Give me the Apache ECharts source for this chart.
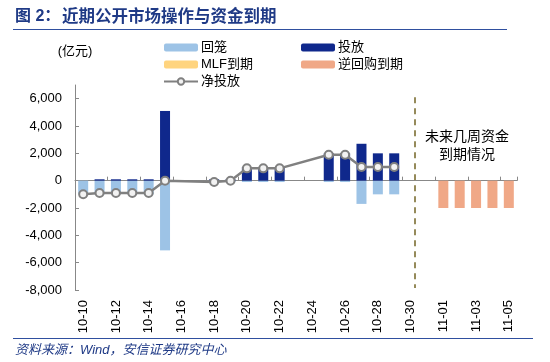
<!DOCTYPE html>
<html>
<head>
<meta charset="utf-8">
<script src="https://cdn.jsdelivr.net/npm/echarts@6/dist/echarts.min.js"></script>
<style>
html,body{margin:0;padding:0;background:#fff;}
#main{width:550px;height:362px;}
</style>
</head>
<body>
<div id="main"></div>
<script>
var categories = ['10-10','10-11','10-12','10-13','10-14','10-15','10-16','10-17','10-18','10-19','10-20','10-21','10-22','10-23','10-24','10-25','10-26','10-27','10-28','10-29','10-30','10-31','11-01','11-02','11-03','11-04','11-05'];
var huiLong  = [-1000,-1000,-1000,-1000,-1000,-5100,null,null,-200,-100,-100,-100,-100,null,null,-100,-100,-1700,-1000,-1000,null,null,null,null,null,null,null];
var touFang  = [null,100,100,100,100,5100,null,null,100,100,1000,1000,1000,null,null,2000,2000,2700,2000,2000,null,null,null,null,null,null,null];
var mlfDaoQi = [null,null,null,null,null,null,null,null,null,null,null,null,null,null,null,null,null,null,null,null,null,null,null,null,null,null,null];
var niHuiGou = [null,null,null,null,null,null,null,null,null,null,null,null,null,null,null,null,null,null,null,null,null,null,-2000,-2000,-2000,-2000,-2000];
var jingTouFang = [-1000,-900,-900,-900,-900,0,null,null,-100,0,900,900,900,null,null,1900,1900,1000,1000,1000,null,null,null,null,null,null,null];
var yTicks = {min:-8000, max:7000, interval:2000};
var dividerPos = 20.77;       // position of dashed divider in category units
var dividerRange = [6100, -7850];

var chart = echarts.init(document.getElementById('main'));
var font = 'Arial, "Liberation Sans", "Noto Sans CJK SC", sans-serif';
var barW = 10;
var option = {
  animation: false,
  textStyle: {fontFamily: font},
  grid: {left: 75, right: 33, top: 85, bottom: 72, containLabel: false},
  legend: [
    {data: ['回笼','MLF到期','净投放'], orient: 'vertical', left: 158, top: 36,
     itemWidth: 34, itemHeight: 8, itemGap: 4, textStyle: {fontSize: 13, color: '#000', fontFamily: font, padding:[0,0,0,-2]}},
    {data: ['投放','逆回购到期'], orient: 'vertical', left: 296, top: 36,
     itemWidth: 34, itemHeight: 8, itemGap: 4, textStyle: {fontSize: 13, color: '#000', fontFamily: font, padding:[0,0,0,-2]}}
  ],
  xAxis: [
    {type: 'category', data: categories, position: 'bottom',
     axisLine: {show: false, onZero: false}, axisTick: {show: false},
     axisLabel: {interval: 1, rotate: 90, fontSize: 13, color: '#000', margin: 10, fontFamily: font}},
    {type: 'category', data: categories,
     axisLine: {show: true, onZero: true, lineStyle: {color: '#888', width: 1}},
     axisTick: {show: true, interval: 1, length: 4, lineStyle: {color: '#888'}},
     axisLabel: {show: false}},
    {type: 'value', min: 0, max: categories.length, show: false}
  ],
  yAxis: {
    type: 'value', min: yTicks.min, max: yTicks.max, interval: yTicks.interval,
    name: '(亿元)', nameLocation: 'end', nameGap: 27,
    nameTextStyle: {fontSize: 13, color: '#000', align: 'center', fontFamily: font},
    axisLine: {show: true, lineStyle: {color: '#888'}},
    axisTick: {show: true, inside: true, length: 4, lineStyle: {color: '#888'}},
    axisLabel: {fontSize: 13, color: '#000', margin: 13, showMaxLabel: false, fontFamily: font},
    splitLine: {show: false}
  },
  series: [
    {name: '回笼', type: 'bar', stack: 'a', data: huiLong, barWidth: barW, itemStyle: {color: '#9dc3e6'}},
    {name: '投放', type: 'bar', stack: 'a', data: touFang, barWidth: barW, itemStyle: {color: '#0f288c'}},
    {name: 'MLF到期', type: 'bar', stack: 'a', data: mlfDaoQi, barWidth: barW, itemStyle: {color: '#ffd47f'}},
    {name: '逆回购到期', type: 'bar', stack: 'a', data: niHuiGou, barWidth: barW, itemStyle: {color: '#f0a887'}},
    {name: '净投放', type: 'line', data: jingTouFang, connectNulls: true,
     symbol: 'circle', symbolSize: 8, showAllSymbol: true,
     lineStyle: {color: '#808080', width: 2.5},
     itemStyle: {color: '#f2f2f2', borderColor: '#808080', borderWidth: 2}},
    {name: 'divider', type: 'line', xAxisIndex: 2, data: [], silent: true,
     markLine: {symbol: 'none', silent: true, label: {show: false},
       lineStyle: {color: '#958a5a', width: 2, type: [6, 5]},
       data: [[{coord: [dividerPos, dividerRange[0]]}, {coord: [dividerPos, dividerRange[1]]}]]}}
  ],
  graphic: [
    {type: 'text', left: 15, top: 9, style: {text: '图 2：', font: 'bold 16px ' + font, fill: '#1f3a86'}},
    {type: 'text', left: 62, top: 9, style: {text: '近期公开市场操作与资金到期', font: 'bold 16.5px ' + font, fill: '#1f3a86'}},
    {type: 'line', shape: {x1: 13, y1: 29.5, x2: 507, y2: 29.5}, style: {stroke: '#2f4f9f', lineWidth: 1.2}},
    {type: 'text', x: 467, y: 128, style: {text: '未来几周资金\n到期情况', font: '14px ' + font, fill: '#000', align: 'center', lineHeight: 18}},
    {type: 'line', shape: {x1: 13, y1: 338.5, x2: 533, y2: 338.5}, style: {stroke: '#2f4f9f', lineWidth: 1.2}},
    {type: 'text', left: 15, top: 344, style: {text: '资料来源：Wind，安信证券研究中心', font: 'italic 13px ' + font, fill: '#1f3a86'}}
  ]
};
chart.setOption(option);
</script>
</body>
</html>
